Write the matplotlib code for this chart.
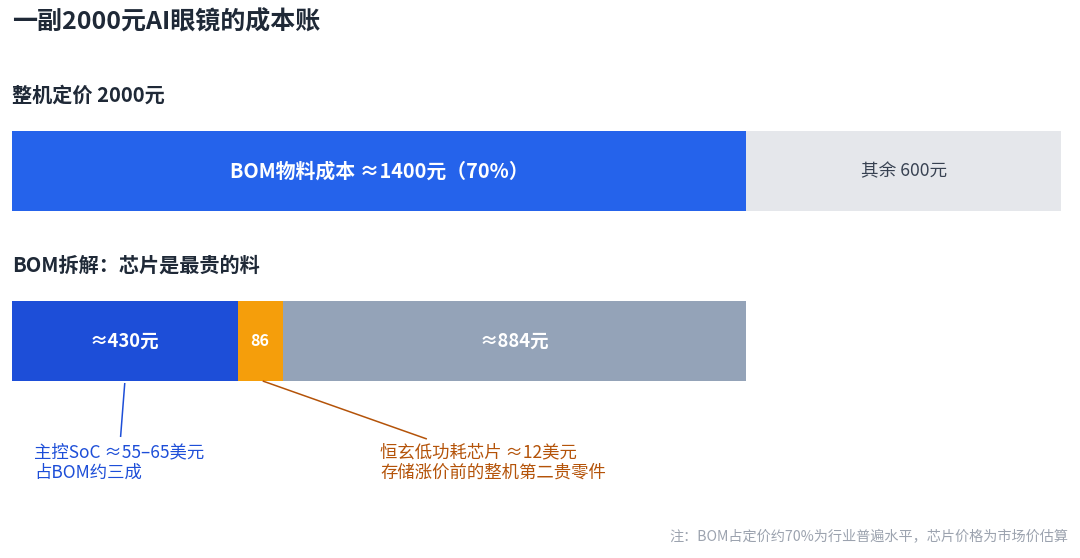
import matplotlib
matplotlib.use("Agg")
import matplotlib.pyplot as plt

plt.rcParams['font.family'] = ['Noto Sans CJK SC', 'DejaVu Sans']

# ---- data ----
total_price = 2000
top_values = [1400, 600]
top_labels = ["BOM物料成本 ≈1400元（70%）", "其余 600元"]
top_colors = ["#2563eb", "#e5e7eb"]
top_text_colors = ["white", "#374151"]

bom_values = [430, 86, 884]
bom_labels = ["≈430元", "86", "≈884元"]
bom_colors = ["#1d4ed8", "#f59e0b", "#94a3b8"]

title = "一副2000元AI眼镜的成本账"
sub1 = "整机定价 2000元"
sub2 = "BOM拆解：芯片是最贵的料"
ann_soc = ["主控SoC ≈55–65美元", "占BOM约三成"]
ann_hx = ["恒玄低功耗芯片 ≈12美元", "存储涨价前的整机第二贵零件"]
note = "注：BOM占定价约70%为行业普遍水平，芯片价格为市场价估算"

W, H = 1080, 558
fig = plt.figure(figsize=(W / 100, H / 100), dpi=100)
fig.patch.set_facecolor("white")
ax = fig.add_axes([12 / W, 0, 1049 / W, 1])
ax.set_xlim(0, total_price)
ax.set_ylim(H, 0)
ax.axis("off")

# top bar
left = 0
for v, lab, c, tc in zip(top_values, top_labels, top_colors, top_text_colors):
    ax.barh(171, v, left=left, height=80, color=c, edgecolor="none")
    bold = tc == "white"
    ax.text(left + v / 2, 171, lab, ha="center", va="center",
            color=tc, fontsize=14.3 if bold else 12.7,
            fontweight="bold" if bold else "normal")
    left += v

# BOM bar
left = 0
mids = []
for v, lab, c in zip(bom_values, bom_labels, bom_colors):
    ax.barh(341, v, left=left, height=80, color=c, edgecolor="none")
    fs = 11.5 if v < 150 else 13.3
    ax.text(left + v / 2, 341, lab, ha="center", va="center",
            color="white", fontsize=fs, fontweight="bold")
    mids.append(left + v / 2)
    left += v

# annotations
blue = "#1d4ed8"
orange = "#b45309"
ax.plot([mids[0], mids[0] - 8], [383, 437], color=blue, lw=1.1, solid_capstyle="butt")
ax.plot([mids[1] + 5, 791], [381, 439], color=orange, lw=1.1, solid_capstyle="butt")
ax.text(42, 452, ann_soc[0], ha="left", va="center", color=blue, fontsize=12.5)
ax.text(42, 473, ann_soc[1], ha="left", va="center", color=blue, fontsize=12.5)
ax.text(702, 452, ann_hx[0], ha="left", va="center", color=orange, fontsize=12.5)
ax.text(702, 473, ann_hx[1], ha="left", va="center", color=orange, fontsize=12.5)

# titles
fig.text(12 / W, 1 - 22 / H, title, ha="left", va="center",
         fontsize=18, fontweight="bold", color="#1f2937")
fig.text(12 / W, 1 - 95 / H, sub1, ha="left", va="center",
         fontsize=14.5, fontweight="bold", color="#1f2937")
fig.text(12 / W, 1 - 265 / H, sub2, ha="left", va="center",
         fontsize=14.5, fontweight="bold", color="#1f2937")
fig.text(1068 / W, 1 - 537 / H, note, ha="right", va="center",
         fontsize=10.2, color="#9ca3af")

fig.savefig("out.png", dpi=100, facecolor="white")
